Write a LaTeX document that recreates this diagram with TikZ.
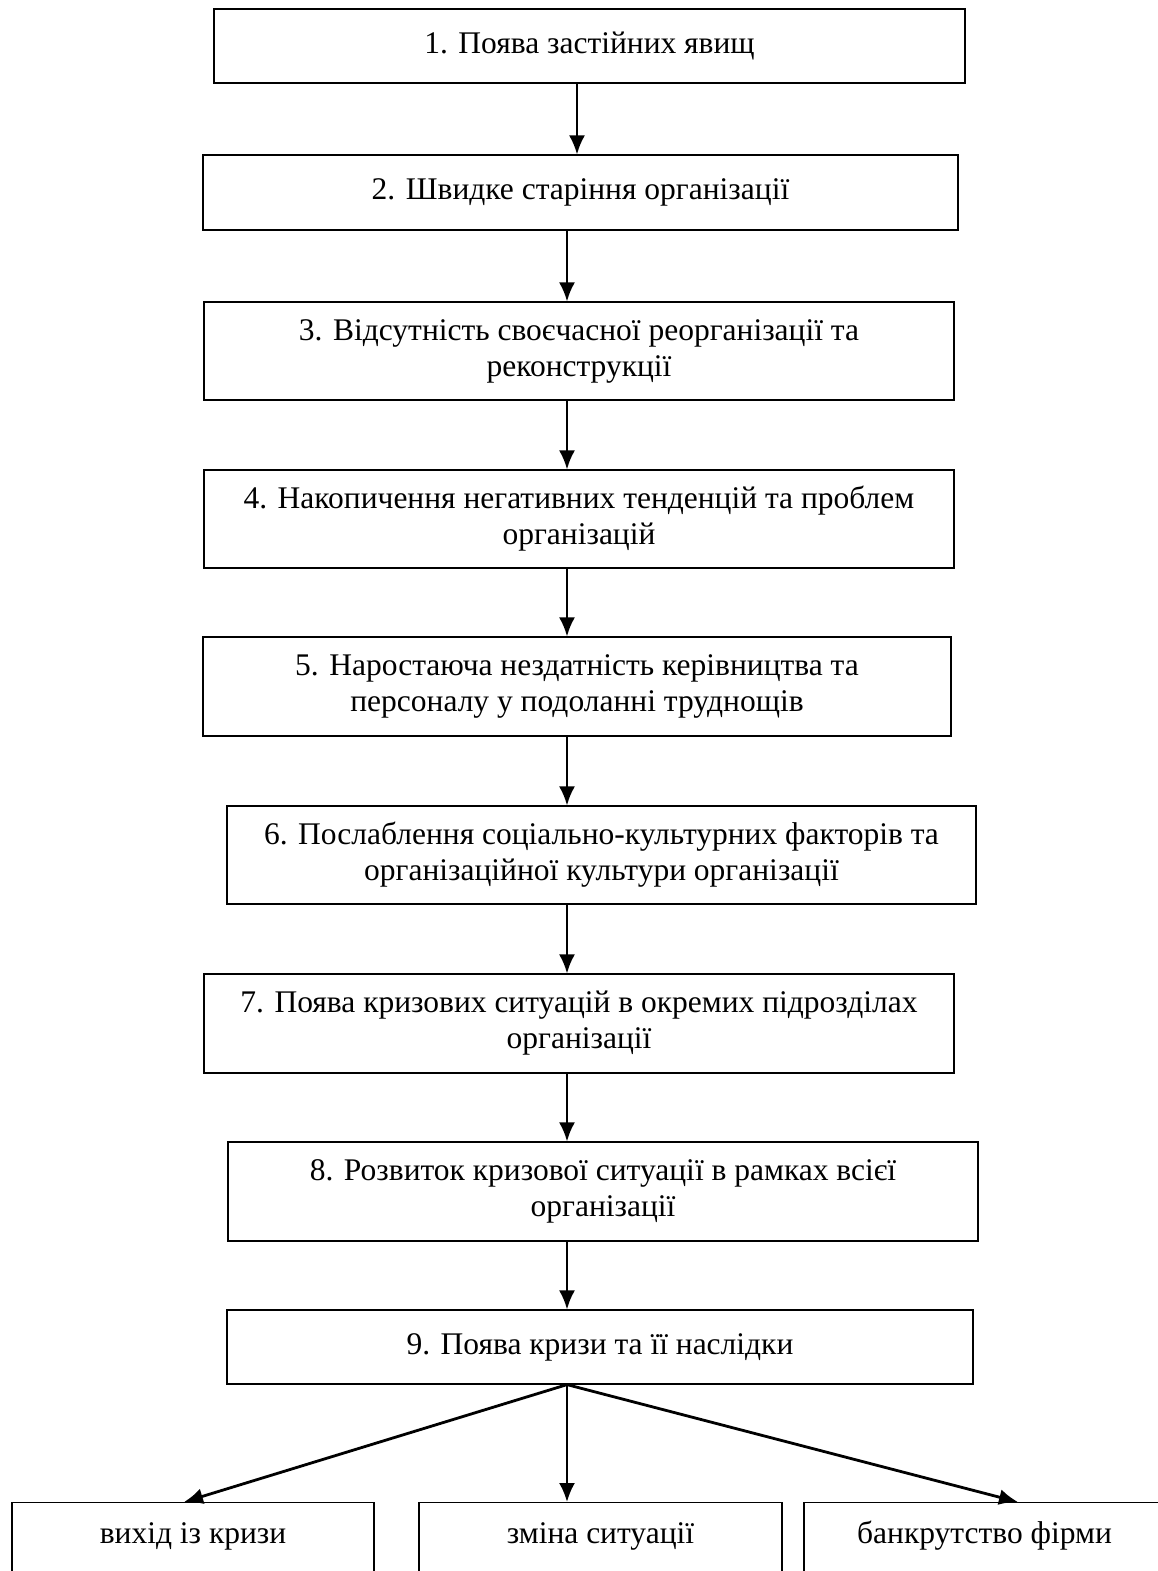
\documentclass[tikz,border=0pt]{standalone}
\usepackage{fontspec}
\setmainfont{Liberation Serif}
\usepackage{tikz}
\usetikzlibrary{arrows.meta,positioning}

\begin{document}
\begin{tikzpicture}[x = .5pt, y = -.5pt,
  stage/.style = {draw, line width = .6pt, inner sep = 0pt, align = center,
    font = \fontsize{15.75}{18}\selectfont},
  outcome/.style = {stage, anchor = north, text height = 20.5pt, text depth = 45pt},
  flow/.style = {-{Latex[length = 9.5pt, width = 8pt]}, line width = 1.2pt}]
\useasboundingbox (0,0) rectangle (1158,1571);
\clip (0,0) rectangle (1158,1571);
% stages of the crisis
\node[stage, minimum width = 375.5pt, minimum height = 37pt] (s1) at (589.5,46) {1. Поява застійних явищ};
\node[stage, minimum width = 377.5pt, minimum height = 37.5pt] (s2) at (580.5,192.5) {2. Швидке старіння організації};
\node[stage, minimum width = 375pt, minimum height = 49pt] (s3) at (579,351) {3. Відсутність своєчасної реорганізації та\\реконструкції};
\node[stage, minimum width = 375pt, minimum height = 49pt] (s4) at (579,519) {4. Накопичення негативних тенденцій та проблем\\організацій};
\node[stage, minimum width = 374pt, minimum height = 49.5pt] (s5) at (577,686.5) {5. Наростаюча нездатність керівництва та\\персоналу у подоланні труднощів};
\node[stage, minimum width = 374.5pt, minimum height = 49pt] (s6) at (601.5,855) {6. Послаблення соціально-культурних факторів та\\організаційної культури організації};
\node[stage, minimum width = 375pt, minimum height = 49.5pt] (s7) at (579,1023.5) {7. Поява кризових ситуацій в окремих підрозділах\\організації};
\node[stage, minimum width = 375pt, minimum height = 49.5pt] (s8) at (603,1191.5) {8. Розвиток кризової ситуації в рамках всієї\\організації};
\node[stage, minimum width = 373pt, minimum height = 37pt] (s9) at (600,1347) {9. Поява кризи та її наслідки};
% possible outcomes
\node[outcome, minimum width = 181pt] (exit) at (193,1502) {вихід із кризи};
\node[outcome, minimum width = 181.5pt] (change) at (600.5,1502) {зміна ситуації};
\node[outcome, minimum width = 180.5pt] (bankr) at (984.5,1502) {банкрутство фірми};
% arrows
\coordinate (a1) at (577,0);
\coordinate (a2) at (567,0);
\coordinate (tipl) at (184,0);
\coordinate (tipr) at (1018,0);
\draw[flow] (s1.south -| a1) -- (s2.north -| a1);
\foreach \i/\j in {s2/s3, s3/s4, s4/s5, s5/s6, s6/s7, s7/s8, s8/s9}
  \draw[flow] (\i.south -| a2) -- (\j.north -| a2);
\coordinate (fork) at (s9.south -| a2);
\draw[flow] (fork) -- (change.north -| a2);
\draw[flow, line width = 1.4pt] (fork) -- (exit.north -| tipl);
\draw[flow, line width = 1.4pt] (fork) -- (bankr.north -| tipr);
\end{tikzpicture}
\end{document}
